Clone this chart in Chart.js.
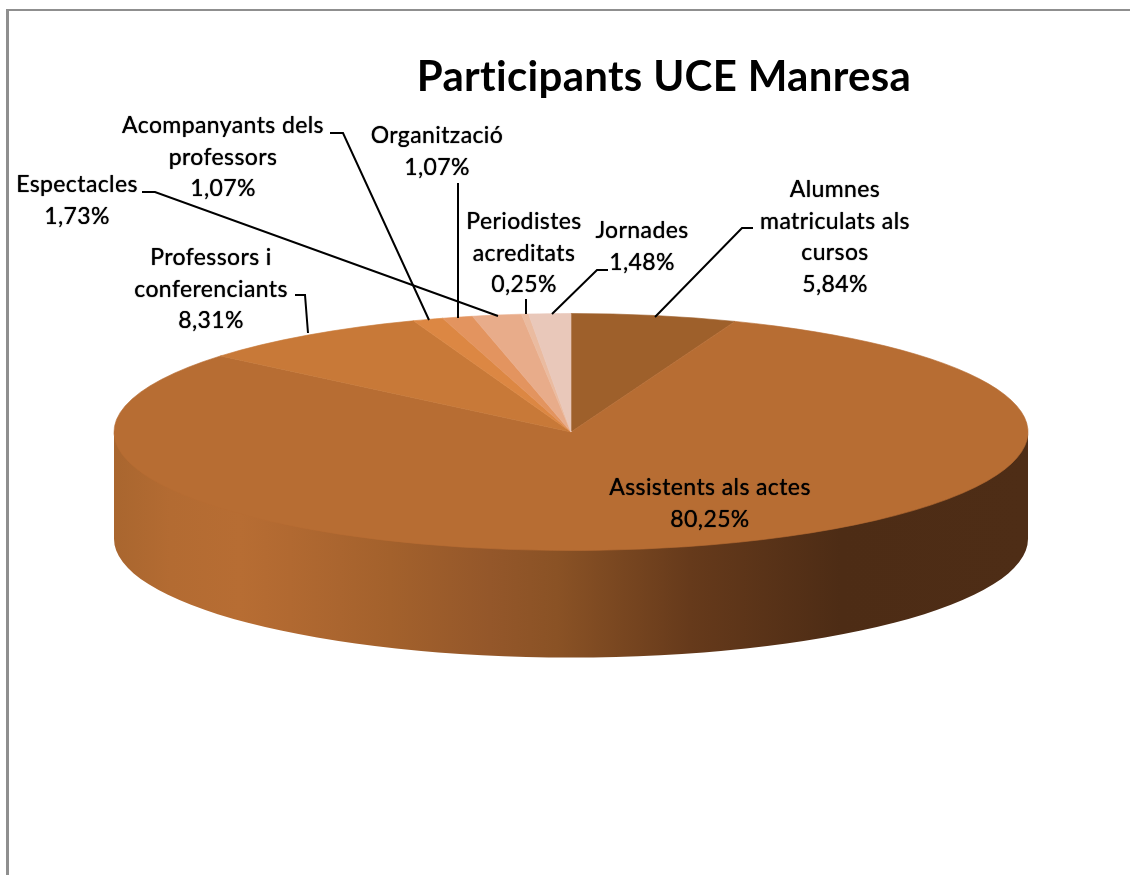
<!DOCTYPE html>
<html>
<head>
<meta charset="utf-8">
<title>Participants UCE Manresa</title>
<script src="https://cdn.jsdelivr.net/npm/chart.js@4"></script>
<style>
  html, body { margin: 0; padding: 0; background: #fff; }
  canvas { display: block; filter: blur(0.5px); }
</style>
</head>
<body>
<canvas id="chart" width="1130" height="875"></canvas>
<script>
const chartTitle = 'Participants UCE Manresa';

// clockwise from 12 o'clock
const categories = [
  'Alumnes matriculats als cursos',
  'Assistents als actes',
  'Professors i conferenciants',
  'Acompanyants dels professors',
  'Organització',
  'Espectacles',
  'Periodistes acreditats',
  'Jornades'
];
const percentages = [5.84, 80.25, 8.31, 1.07, 1.07, 1.73, 0.25, 1.48];
const sliceColors = ['#9e602b', '#b76d33', '#c87938', '#dc8743', '#e3945f', '#e8ac8a', '#eabba0', '#e9c8ba'];

const labelLines = [
  ['Alumnes', 'matriculats als', 'cursos'],
  ['Assistents als actes'],
  ['Professors i', 'conferenciants'],
  ['Acompanyants dels', 'professors'],
  ['Organització'],
  ['Espectacles'],
  ['Periodistes', 'acreditats'],
  ['Jornades']
];
// centre x and first baseline of every label
const labelX = [835, 710, 211, 223, 437, 77, 524, 642];
const labelY = [197, 495, 265, 133, 143, 192, 229, 238];

const leaderLines = [
  [[753, 228], [742, 228], [655, 317]],
  null,
  [[295, 295], [305, 295], [308, 333]],
  [[330, 133], [343, 133], [429, 320]],
  [[458, 183], [458, 318]],
  [[142, 192], [155, 192], [498, 316]],
  [[526, 299], [526, 314]],
  [[608, 270], [597, 270], [552, 314]]
];

// side wall shading, x position on the page -> colour
const wallStops = [
  [114, '#a9662f'], [170, '#b36b32'], [240, '#b76d33'], [290, '#b16931'], [340, '#aa652f'],
  [390, '#a3612c'], [490, '#94572a'], [557, '#8a5225'], [690, '#663a1b'], [840, '#4d2c15'], [1029, '#4e2d16']
];

const pieRadius = 457;
const faceY = 432;
const faceRadiusY = 118.5;
const wallDepth = 107;
const squash = faceRadiusY / pieRadius;

const labelFont = '23px Lato, sans-serif';
const titleFont = 'bold 42px Lato, sans-serif';

function formatPct(v) {
  return v.toFixed(2).replace('.', ',') + '%';
}

const pie3d = {
  id: 'pie3d',
  beforeDraw(chart) {
    // frame of the original picture
    const ctx = chart.ctx;
    ctx.save();
    ctx.fillStyle = '#8f8f8f';
    ctx.fillRect(6, 9, 1124, 2);
    ctx.fillRect(6, 9, 3, 866);
    ctx.restore();
  },
  beforeDatasetDraw(chart) {
    const ctx = chart.ctx;
    const arcs = chart.getDatasetMeta(0).data;
    const cx = arcs[0].x;
    const x0 = wallStops[0][0];
    const x1 = wallStops[wallStops.length - 1][0];
    const grad = ctx.createLinearGradient(x0, 0, x1, 0);
    for (let stop of wallStops) {
      grad.addColorStop((stop[0] - x0) / (x1 - x0), stop[1]);
    }
    // only the front half of an arc has a visible wall
    // (starts a bit higher so it runs under the face and leaves no seam)
    for (let arc of arcs) {
      let a0 = Math.max(arc.startAngle, 0);
      let a1 = Math.min(arc.endAngle, Math.PI);
      if (a1 <= a0) continue;
      ctx.beginPath();
      ctx.ellipse(cx, faceY - 3, pieRadius, faceRadiusY, 0, a0, a1);
      ctx.ellipse(cx, faceY + wallDepth, pieRadius, faceRadiusY, 0, a1, a0, true);
      ctx.closePath();
      ctx.fillStyle = grad;
      ctx.fill();
    }
    ctx.save();
    ctx.translate(0, faceY);
    ctx.scale(1, squash);
    ctx.translate(0, -arcs[0].y);
  },
  afterDatasetDraw(chart) {
    chart.ctx.restore();
  },
  afterDraw(chart) {
    const ctx = chart.ctx;
    ctx.save();
    ctx.strokeStyle = '#000';
    ctx.lineWidth = 2;
    for (let line of leaderLines) {
      if (!line) continue;
      ctx.beginPath();
      line.forEach((p, i) => i ? ctx.lineTo(p[0], p[1]) : ctx.moveTo(p[0], p[1]));
      ctx.stroke();
    }
    ctx.fillStyle = '#000';
    ctx.textAlign = 'center';
    ctx.textBaseline = 'alphabetic';
    ctx.font = titleFont;
    ctx.letterSpacing = '0.3px';
    ctx.fillText(chartTitle, 664, 91);
    // a tight shadow thickens the thin regular weight
    ctx.shadowColor = '#000';
    ctx.shadowBlur = 1;
    ctx.font = labelFont;
    ctx.letterSpacing = '0.4px';
    labelLines.forEach((lines, i) => {
      let all = lines.concat(formatPct(percentages[i]));
      all.forEach((txt, k) => ctx.fillText(txt, labelX[i], labelY[i] + k * 31.5));
    });
    ctx.restore();
  }
};

new Chart(document.getElementById('chart'), {
  type: 'pie',
  data: {
    labels: categories,
    datasets: [{
      data: percentages,
      backgroundColor: sliceColors,
      borderColor: sliceColors,
      borderWidth: 1,
      clip: false
    }]
  },
  options: {
    responsive: false,
    animation: false,
    radius: pieRadius,
    layout: { padding: { left: 12 } },
    plugins: {
      legend: { display: false },
      tooltip: { enabled: false }
    }
  },
  plugins: [pie3d]
});
</script>
</body>
</html>
